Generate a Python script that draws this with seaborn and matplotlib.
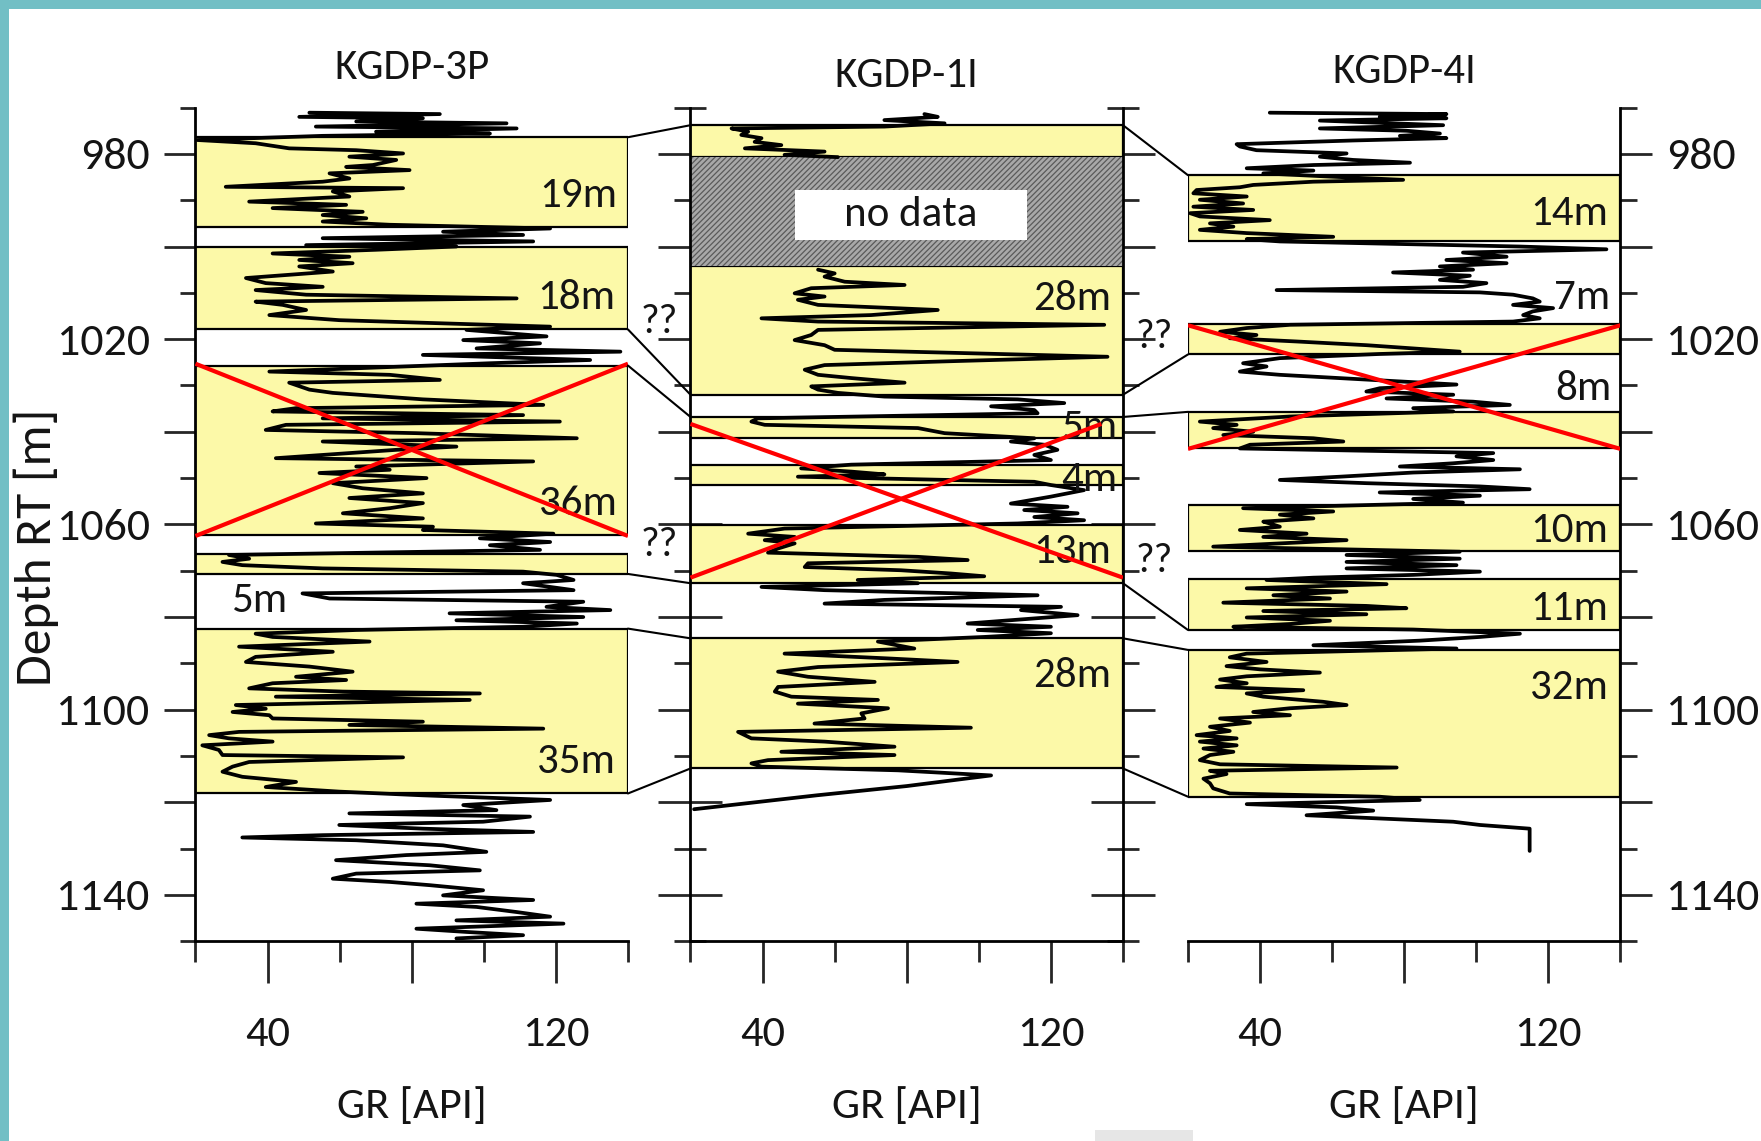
import matplotlib
matplotlib.use("Agg")
import matplotlib.pyplot as plt
import seaborn as sns
from matplotlib import font_manager
from matplotlib.patches import ConnectionPatch, Rectangle
from matplotlib.ticker import FixedLocator, FuncFormatter

# ---------------------------------------------------------------- data
well_names = ["KGDP-3P", "KGDP-1I", "KGDP-4I"]

# gamma-ray logs: depth [m RT] and GR [API]
kgdp3p_depth = [
    971.1, 971.4, 972.0, 972.3, 973.0, 973.4, 974.1, 974.5, 975.2, 975.6,
    976.1, 977.0, 977.7, 978.8, 979.2, 979.9, 980.6, 981.3, 982.4, 982.8,
    983.5, 984.2, 985.3, 986.0, 987.1, 987.4, 988.1, 989.2, 990.3, 991.0,
    991.7, 992.5, 993.2, 993.9, 994.6, 995.3, 996.1, 996.8, 997.5, 998.2,
    998.9, 999.7, 1000.0, 1000.7, 1001.5, 1002.2, 1002.9, 1003.6, 1004.3, 1005.4,
    1006.8, 1007.9, 1008.7, 1009.4, 1010.4, 1011.2, 1011.9, 1012.6, 1013.7, 1014.8,
    1015.9, 1017.3, 1018.0, 1018.7, 1019.4, 1020.2, 1020.9, 1022.0, 1022.7, 1023.4,
    1024.5, 1025.2, 1026.3, 1027.0, 1027.7, 1028.8, 1029.4, 1030.9, 1031.6, 1033.0,
    1034.2, 1034.9, 1035.6, 1036.4, 1037.1, 1037.8, 1038.5, 1039.6, 1040.3, 1041.4,
    1042.1, 1043.2, 1043.9, 1044.6, 1045.7, 1046.4, 1047.5, 1048.2, 1048.9, 1050.0,
    1051.1, 1052.2, 1053.3, 1054.3, 1055.4, 1056.5, 1057.6, 1058.7, 1059.8, 1060.5,
    1061.2, 1062.0, 1063.0, 1063.8, 1064.5, 1065.5, 1066.6, 1067.4, 1068.1, 1068.8,
    1069.5, 1070.2, 1070.9, 1072.0, 1072.7, 1074.2, 1074.9, 1076.0, 1076.7, 1077.8,
    1078.5, 1079.2, 1080.0, 1080.7, 1081.4, 1082.1, 1082.8, 1083.6, 1084.3, 1085.3,
    1086.4, 1087.5, 1088.6, 1089.7, 1090.7, 1091.8, 1092.9, 1093.6, 1094.3, 1095.4,
    1096.1, 1096.5, 1097.2, 1097.9, 1099.0, 1099.8, 1100.5, 1101.2, 1101.9, 1102.6,
    1103.3, 1104.1, 1104.8, 1105.5, 1106.2, 1106.9, 1107.7, 1108.7, 1109.8, 1110.3,
    1111.3, 1112.3, 1113.4, 1114.5, 1115.6, 1116.7, 1117.7, 1118.5, 1119.5, 1120.6,
    1121.7, 1122.4, 1123.1, 1124.2, 1124.9, 1125.7, 1126.4, 1127.1, 1127.6, 1128.2,
    1129.3, 1130.7, 1131.4, 1132.5, 1133.6, 1134.7, 1135.4, 1136.5, 1137.2, 1137.9,
    1139.0, 1140.1, 1141.1, 1141.9, 1142.6, 1143.7, 1144.7, 1145.5, 1146.2, 1147.3,
    1148.0, 1148.7, 1149.4,
]
kgdp3p_gr = [
    51.6, 87.8, 48.8, 83.1, 64.6, 106.3, 53.4, 109.1, 70.1, 101.7,
    55.3, 20.5, 36.7, 46.0, 64.6, 77.6, 62.7, 75.7, 69.2, 61.8,
    79.4, 57.2, 62.7, 55.3, 28.4, 77.6, 58.1, 62.7, 34.9, 61.8,
    41.4, 66.4, 55.3, 67.4, 55.3, 73.9, 118.4, 88.7, 110.9, 55.3,
    113.7, 50.7, 92.4, 70.1, 41.4, 62.7, 48.8, 63.6, 48.8, 58.1,
    34.0, 39.5, 55.3, 36.7, 50.7, 109.1, 36.7, 44.2, 50.7, 40.5,
    59.9, 118.4, 95.2, 106.3, 117.4, 94.3, 115.6, 98.0, 137.9, 83.1,
    129.5, 101.7, 64.6, 40.5, 73.9, 87.8, 46.0, 51.6, 58.1, 83.1,
    116.5, 47.9, 41.4, 110.9, 55.3, 121.1, 45.1, 39.5, 81.3, 125.8,
    55.3, 92.4, 75.7, 62.7, 42.3, 113.7, 64.6, 73.9, 54.4, 84.1,
    58.1, 66.4, 83.1, 62.7, 83.1, 73.9, 60.9, 83.1, 53.4, 85.9,
    83.1, 119.3, 98.9, 118.4, 101.7, 115.6, 29.3, 34.9, 27.5, 33.0,
    55.3, 110.9, 120.2, 124.9, 110.9, 124.9, 49.7, 57.2, 127.6, 117.4,
    135.1, 90.5, 127.6, 92.4, 125.8, 110.9, 64.6, 36.7, 41.4, 68.3,
    32.1, 58.1, 36.7, 34.0, 51.6, 63.6, 47.9, 61.8, 41.4, 34.9,
    60.9, 98.9, 42.3, 96.1, 31.2, 39.5, 30.3, 40.5, 41.4, 83.1,
    62.7, 116.5, 32.1, 23.8, 29.3, 41.4, 21.9, 26.5, 27.5, 77.6,
    34.9, 30.3, 27.5, 33.0, 47.9, 39.5, 59.9, 83.1, 118.4, 94.3,
    103.5, 62.7, 112.8, 99.8, 59.9, 83.1, 113.7, 55.3, 33.0, 64.6,
    88.7, 100.7, 78.5, 59.0, 85.0, 98.9, 64.6, 58.1, 73.9, 85.0,
    99.8, 88.7, 113.7, 81.3, 98.0, 109.1, 118.4, 92.4, 122.1, 81.3,
    95.2, 110.9, 92.4,
]

# KGDP-1I: short section above the unlogged interval, then the main run
kgdp1i_top_depth = [971.4, 972.0, 972.7, 973.4, 974.1, 974.5, 975.2, 975.9,
                    976.6, 977.4, 978.1, 978.8, 979.5, 980.2, 980.7]
kgdp1i_top_gr = [84.9, 88.6, 73.8, 90.5, 73.8, 31.4, 36.0, 34.1,
                 39.7, 37.8, 45.2, 35.1, 57.2, 46.1, 60.9]
kgdp1i_depth = [
    1005.0, 1005.8, 1006.5, 1007.6, 1008.3, 1009.0, 1010.1, 1010.8, 1011.5, 1012.6,
    1013.7, 1014.8, 1015.5, 1016.2, 1016.9, 1018.0, 1019.1, 1020.2, 1021.3, 1022.3,
    1023.8, 1024.8, 1025.6, 1026.6, 1027.7, 1028.4, 1029.4, 1030.2, 1030.9, 1031.6,
    1032.4, 1033.0, 1033.8, 1034.5, 1035.3, 1036.0, 1037.1, 1037.8, 1038.5, 1039.2,
    1040.3, 1041.4, 1042.1, 1042.8, 1043.9, 1045.0, 1046.1, 1047.1, 1047.9, 1048.6,
    1049.2, 1049.7, 1050.8, 1051.5, 1052.6, 1054.0, 1055.5, 1056.2, 1056.9, 1057.6,
    1058.4, 1059.1, 1059.8, 1060.9, 1062.0, 1062.7, 1063.4, 1064.1, 1065.2, 1066.1,
    1067.0, 1067.7, 1068.4, 1069.2, 1069.9, 1070.6, 1071.2, 1072.0, 1072.7, 1073.5,
    1074.2, 1075.3, 1076.3, 1077.1, 1077.8, 1078.5, 1079.6, 1080.3, 1081.4, 1082.1,
    1082.8, 1083.5, 1084.3, 1085.3, 1086.8, 1087.9, 1088.9, 1089.7, 1090.8, 1091.8,
    1092.9, 1094.0, 1095.1, 1096.1, 1097.2, 1097.9, 1098.7, 1099.7, 1100.8, 1101.9,
    1103.0, 1103.9, 1104.8, 1106.2, 1106.9, 1108.0, 1109.1, 1109.8, 1110.9, 1111.6,
    1112.3, 1113.1, 1114.2, 1116.5, 1118.5, 1121.5,
]
kgdp1i_gr = [
    55.4, 60.0, 57.2, 62.8, 79.4, 53.5, 48.9, 57.2, 49.8, 55.4,
    88.6, 70.1, 39.7, 55.4, 134.8, 55.4, 53.5, 48.9, 57.2, 60.0,
    135.7, 90.5, 57.2, 51.7, 55.4, 64.6, 79.4, 53.5, 55.4, 60.9,
    73.8, 110.8, 123.7, 103.4, 115.4, 116.3, 38.7, 36.9, 40.6, 83.1,
    90.5, 115.4, 108.9, 118.2, 121.8, 115.4, 120.0, 64.6, 50.7, 64.6,
    73.8, 49.8, 115.4, 120.0, 129.2, 120.0, 108.9, 124.6, 112.6, 127.4,
    115.4, 129.2, 110.8, 46.1, 36.0, 48.9, 40.6, 48.9, 44.3, 41.5,
    83.1, 96.9, 52.6, 51.7, 78.4, 92.3, 101.5, 66.4, 83.1, 39.7,
    57.2, 116.3, 73.8, 57.2, 122.8, 111.7, 127.4, 115.4, 96.9, 120.0,
    99.7, 120.0, 101.5, 72.0, 82.1, 46.1, 73.8, 94.1, 55.4, 44.3,
    52.6, 71.1, 44.3, 43.4, 48.0, 72.0, 49.8, 74.8, 67.4, 68.3,
    54.4, 97.8, 33.2, 36.9, 57.2, 76.6, 45.2, 76.6, 41.5, 36.9,
    39.7, 77.5, 103.4, 80.0, 55.0, 21.0,
]

kgdp4i_depth = [
    971.1, 971.4, 972.0, 972.3, 972.8, 973.4, 973.8, 974.5, 975.0, 975.6,
    976.1, 976.6, 977.1, 977.9, 978.4, 979.2, 979.9, 980.6, 981.3, 981.9,
    982.4, 983.1, 983.6, 984.2, 984.9, 985.6, 986.0, 986.7, 987.2, 987.8,
    988.5, 989.2, 989.9, 990.7, 991.4, 992.1, 992.8, 993.5, 994.3, 995.0,
    995.7, 996.4, 997.1, 997.9, 998.4, 998.9, 1000.0, 1000.6, 1001.3, 1002.2,
    1002.9, 1003.6, 1004.3, 1005.0, 1005.6, 1006.3, 1007.2, 1007.9, 1008.7, 1009.4,
    1009.9, 1010.4, 1011.2, 1011.9, 1012.6, 1013.3, 1014.0, 1014.8, 1015.5, 1016.2,
    1016.9, 1017.6, 1018.4, 1019.1, 1019.8, 1020.5, 1021.3, 1022.0, 1022.7, 1023.2,
    1024.1, 1025.2, 1025.9, 1027.0, 1027.7, 1028.8, 1029.8, 1030.6, 1031.3, 1032.0,
    1032.8, 1033.5, 1034.2, 1034.9, 1035.6, 1036.7, 1037.8, 1038.5, 1039.2, 1040.0,
    1040.7, 1041.4, 1042.1, 1042.8, 1043.6, 1044.6, 1045.3, 1046.1, 1046.8, 1047.5,
    1048.1, 1048.8, 1049.7, 1050.4, 1051.1, 1051.8, 1052.4, 1053.1, 1053.8, 1054.5,
    1055.3, 1056.5, 1057.2, 1057.9, 1058.7, 1059.4,
    1059.8, 1060.5, 1061.2, 1062.0, 1062.7, 1063.4, 1064.1, 1064.8, 1065.4, 1065.9,
    1066.6, 1067.4, 1068.1, 1068.8, 1069.5, 1070.2, 1070.9, 1071.5, 1072.0, 1072.9,
    1073.8, 1074.5, 1075.3, 1076.0, 1076.9, 1077.6, 1078.1, 1078.7, 1079.4, 1080.1,
    1080.8, 1081.5, 1082.1, 1082.7, 1083.6, 1084.3, 1085.1, 1086.1, 1086.8, 1087.9,
    1088.7, 1089.7, 1090.6, 1091.3, 1092.0, 1092.8, 1093.5, 1094.3, 1095.1, 1095.8,
    1096.5, 1097.2, 1098.3, 1099.0, 1099.7, 1100.5, 1101.2, 1101.9, 1102.8, 1103.7,
    1104.6, 1105.5, 1106.2, 1106.9, 1107.7, 1108.4, 1109.1, 1109.8, 1110.9, 1111.8,
    1112.5, 1113.2, 1113.9, 1114.9, 1115.9, 1117.0, 1118.1, 1118.8, 1119.5, 1120.4,
    1121.1, 1121.8, 1122.8, 1123.5, 1124.2, 1124.9, 1125.7, 1126.0, 1130.5,
]
kgdp4i_gr = [
    42.7, 91.7, 73.2, 91.7, 56.6, 76.9, 90.8, 56.6, 80.6, 89.9,
    78.8, 91.7, 65.8, 33.5, 34.4, 39.0, 64.0, 56.6, 65.8, 81.6,
    54.8, 36.3, 54.8, 40.9, 59.4, 79.7, 54.8, 38.1, 34.4, 22.4,
    21.5, 36.3, 23.3, 35.3, 21.5, 38.1, 20.6, 23.3, 42.7, 26.1,
    32.6, 23.3, 36.3, 60.3, 36.3, 45.5, 112.1, 136.1, 96.3, 108.4,
    91.7, 108.4, 89.9, 99.1, 76.9, 98.2, 89.9, 102.8, 96.3, 44.6,
    101.0, 110.2, 115.7, 117.6, 110.2, 121.3, 115.7, 113.0, 117.6, 110.2,
    48.3, 36.3, 28.9, 39.0, 31.6, 50.1, 69.5, 82.5, 95.4, 73.2,
    45.5, 35.3, 41.8, 34.4, 45.5, 71.4, 94.5, 73.2, 69.5, 93.6,
    75.1, 99.1, 109.3, 82.5, 93.6, 48.3, 23.3, 33.5, 27.0, 38.1,
    29.8, 54.8, 63.1, 37.2, 34.4, 104.7, 94.5, 104.7, 93.6, 78.8,
    112.1, 82.5, 62.1, 45.5, 69.5, 101.0, 114.8, 73.2, 101.0, 82.5,
    96.3, 35.3, 60.3, 45.5, 54.8, 40.9,
    42.7, 45.5, 34.4, 52.9, 40.9, 64.0, 45.5, 27.0, 64.0, 95.4,
    64.0, 95.4, 64.0, 94.5, 64.0, 101.0, 82.5, 54.8, 41.8, 75.1,
    36.3, 64.0, 43.7, 59.4, 29.8, 69.5, 80.6, 40.9, 69.5, 36.3,
    59.4, 48.3, 32.6, 82.5, 112.1, 101.0, 84.3, 54.8, 94.5, 36.3,
    31.6, 41.8, 30.7, 40.0, 56.6, 36.3, 28.9, 36.3, 27.9, 52.0,
    36.3, 40.9, 57.5, 64.0, 48.3, 38.1, 48.3, 28.9, 37.2, 26.1,
    31.6, 22.4, 33.5, 23.3, 33.5, 24.3, 32.6, 26.1, 23.3, 28.9,
    77.9, 26.1, 30.7, 24.3, 26.1, 27.0, 31.6, 73.2, 84.3, 36.3,
    61.2, 71.4, 52.9, 73.2, 93.6, 101.0, 114.8, 114.8, 114.8,
]

# sand packages (top, base) in m RT and their thickness labels
kgdp3p_beds = [(976.4, 995.7), (1000.0, 1017.9), (1025.7, 1062.3),
               (1066.3, 1070.7), (1082.5, 1118.1)]
kgdp1i_beds = [(973.8, 980.6), (1004.2, 1032.0), (1036.8, 1041.4),
               (1047.1, 1051.5), (1060.2, 1072.7), (1084.6, 1112.7)]
kgdp4i_beds = [(984.6, 998.7), (1016.8, 1023.3), (1035.7, 1043.6),
               (1055.8, 1065.7), (1071.7, 1082.8), (1087.1, 1118.8)]
kgdp1i_gap = (980.6, 1004.2)

kgdp3p_labels = [("19m", 136.9, 988.9), ("18m", 136.5, 1011.0),
                 ("36m", 137.0, 1055.4), ("35m", 136.5, 1111.3)]
kgdp3p_left_labels = [("5m", 29.8, 1076.5)]
kgdp1i_labels = [("28m", 136.6, 1011.2), ("5m", 138.5, 1039.0),
                 ("4m", 138.5, 1050.4), ("13m", 136.6, 1065.9),
                 ("28m", 136.6, 1092.7)]
kgdp4i_labels = [("14m", 136.5, 992.8), ("7m", 137.0, 1011.0),
                 ("8m", 137.5, 1030.6), ("10m", 136.5, 1061.4),
                 ("11m", 136.5, 1078.1), ("32m", 136.5, 1095.2)]

# rejected intervals (crossed out): top, base, x-extent of rising stroke
kgdp3p_cross = (1025.3, 1062.5, 140.0)
kgdp1i_cross = (1038.3, 1071.5, 134.0)
kgdp4i_cross = (1017.0, 1043.7, 140.0)

# correlation tie lines between neighbouring wells (depth left, depth right)
ties_3p_1i = [(976.4, 973.8), (1017.9, 1032.0), (1025.7, 1036.8),
              (1070.7, 1072.7), (1082.5, 1084.6), (1118.1, 1112.7)]
ties_1i_4i = [(973.8, 984.6), (1032.0, 1023.3), (1036.8, 1035.7),
              (1072.7, 1082.8), (1084.6, 1087.1), (1112.7, 1118.8)]
uncertain_3p_1i = [1016.3, 1064.5]
uncertain_1i_4i = [1019.5, 1067.8]

gr_major = [40, 80, 120]
gr_minor = [20, 60, 100, 140]
gr_ticklabels = ["40", "", "120"]
depth_major = list(range(980, 1141, 20))
depth_minor = list(range(970, 1151, 20))

# ---------------------------------------------------------------- style
def pick_font(candidates):
    for name in candidates:
        try:
            font_manager.findfont(font_manager.FontProperties(family=name),
                                  fallback_to_default=False)
            return name
        except Exception:
            continue
    return "DejaVu Sans"

sns.set_style("white")
FONT = pick_font(["Carlito", "Lato", "Open Sans"])
plt.rcParams["font.family"] = [FONT, "DejaVu Sans"]
plt.rcParams["font.weight"] = 500
plt.rcParams["hatch.linewidth"] = 0.9

YELLOW = "#fcf9a8"
TEAL = "#72bfc5"
INK = "#141414"
FS = 31
YTICK_FS = 33
XTICK_FS = 32

fig = plt.figure(figsize=(17.61, 11.41), dpi=100)
fig.patch.set_facecolor("white")
lefts = [0.1110, 0.3921, 0.6746]
axes = [fig.add_axes([l, 0.1751, 0.2456, 0.7306]) for l in lefts]
ax1, ax2, ax3 = axes

fig.add_artist(Rectangle((0, 1 - 9 / 1141), 1, 9 / 1141, transform=fig.transFigure,
                         facecolor=TEAL, edgecolor="none", zorder=0))
fig.add_artist(Rectangle((0, 0), 8.5 / 1761, 1, transform=fig.transFigure,
                         facecolor=TEAL, edgecolor="none", zorder=0))
fig.add_artist(Rectangle((1095 / 1761, 0), 98 / 1761, 11 / 1141, transform=fig.transFigure,
                         facecolor="#e6e6e6", edgecolor="none", zorder=0))

beds = [kgdp3p_beds, kgdp1i_beds, kgdp4i_beds]
labels = [kgdp3p_labels, kgdp1i_labels, kgdp4i_labels]
crosses = [kgdp3p_cross, kgdp1i_cross, kgdp4i_cross]
title_y = [1.0475, 1.0385, 1.0439]

for i, ax in enumerate(axes):
    ax.set_facecolor("none")
    for top, base in beds[i]:
        ax.axhspan(top, base, facecolor=YELLOW, edgecolor="black", linewidth=1.6, zorder=1)

# unlogged interval in KGDP-1I
ax2.axhspan(*kgdp1i_gap, facecolor="#a8a8a8", edgecolor="#5a5a5a", hatch="//////",
            linewidth=0, zorder=1)
ax2.add_patch(Rectangle((48.9, 987.8), 64.6, 10.8, facecolor="white", edgecolor="none",
                        zorder=2))
ax2.text(81.2, 993.0, "no data", ha="center", va="center", fontsize=FS, color=INK, zorder=3)

# GR curves
log_kw = dict(sort=False, estimator=None, color="black", linewidth=2.7, zorder=3)
sns.lineplot(x=kgdp3p_gr, y=kgdp3p_depth, ax=ax1, **log_kw)
sns.lineplot(x=kgdp1i_top_gr, y=kgdp1i_top_depth, ax=ax2, **log_kw)
sns.lineplot(x=kgdp1i_gr, y=kgdp1i_depth, ax=ax2, **log_kw)
sns.lineplot(x=kgdp4i_gr, y=kgdp4i_depth, ax=ax3, **log_kw)

for i, ax in enumerate(axes):
    for text, x, d in labels[i]:
        ax.text(x, d, text, ha="right", va="center", fontsize=FS, color=INK, zorder=5)
    top, base, xend = crosses[i]
    ax.plot([20, 140], [top, base], color="#ff0000", linewidth=3.0, zorder=6,
            solid_capstyle="butt")
    ax.plot([20, xend], [base, top], color="#ff0000", linewidth=3.0, zorder=6,
            solid_capstyle="butt")
    ax.text(0.5, title_y[i], well_names[i], transform=ax.transAxes, ha="center",
            va="center", fontsize=FS, color=INK)

for text, x, d in kgdp3p_left_labels:
    ax1.text(x, d, text, ha="left", va="center", fontsize=FS, color=INK, zorder=5)

# axes, ticks and spines
for i, ax in enumerate(axes):
    ax.set_xlim(20, 140)
    ax.set_ylim(1150, 970)
    ax.xaxis.set_major_locator(FixedLocator(gr_major))
    ax.xaxis.set_minor_locator(FixedLocator(gr_minor))
    ax.set_xticklabels(gr_ticklabels)
    ax.yaxis.set_major_locator(FixedLocator(depth_major))
    ax.yaxis.set_minor_locator(FixedLocator(depth_minor))
    ax.yaxis.set_major_formatter(FuncFormatter(
        lambda v, p: f"{int(round(v))}" if int(round(v)) % 40 == 20 else ""))
    ax.tick_params(axis="x", which="major", direction="out", length=30, width=2,
                   bottom=True, top=False, pad=24, labelsize=XTICK_FS, labelcolor=INK)
    ax.tick_params(axis="x", which="minor", direction="out", length=15, width=2,
                   bottom=True, top=False)
    ax.set_xlabel("GR [API]", fontsize=32, color=INK)
    ax.xaxis.set_label_coords(0.5, -0.1977)
    ax.xaxis.label.set_va("center")
    ax.set_ylabel("")
    for side in ("left", "right", "top", "bottom"):
        ax.spines[side].set_linewidth(2.0)
        ax.spines[side].set_color("black")
    ax.spines["top"].set_visible(False)

ax1.spines["right"].set_visible(False)
ax1.tick_params(axis="y", which="major", direction="out", length=22, width=2,
                left=True, right=False, labelleft=True, labelright=False,
                pad=11, labelsize=YTICK_FS, labelcolor=INK)
ax1.tick_params(axis="y", which="minor", direction="out", length=11, width=2,
                left=True, right=False)
ax1.set_ylabel("Depth RT [m]", fontsize=37, color=INK)
ax1.yaxis.set_label_coords(-0.3688, 0.4729)
ax1.yaxis.label.set_va("center")

ax2.tick_params(axis="y", which="major", direction="inout", length=46, width=2,
                left=True, right=True, labelleft=False, labelright=False)
ax2.tick_params(axis="y", which="minor", direction="inout", length=23, width=2,
                left=True, right=True)

ax3.spines["left"].set_visible(False)
ax3.tick_params(axis="y", which="major", direction="out", length=23, width=2,
                left=False, right=True, labelleft=False, labelright=True,
                pad=10, labelsize=YTICK_FS, labelcolor=INK)
ax3.tick_params(axis="y", which="minor", direction="out", length=12, width=2,
                left=False, right=True)

# correlation ties and question marks in the gaps between wells
for (axa, axb, ties, qs) in ((ax1, ax2, ties_3p_1i, uncertain_3p_1i),
                             (ax2, ax3, ties_1i_4i, uncertain_1i_4i)):
    for da, db in ties:
        con = ConnectionPatch(xyA=(140, da), coordsA="data", axesA=axa,
                              xyB=(20, db), coordsB="data", axesB=axb,
                              color="black", linewidth=1.5, zorder=2)
        fig.add_artist(con)
    for d in qs:
        axa.text(148.8, d, "??", ha="center", va="center", fontsize=29,
                 color=INK, clip_on=False)

fig.savefig("out.png", dpi=100)
